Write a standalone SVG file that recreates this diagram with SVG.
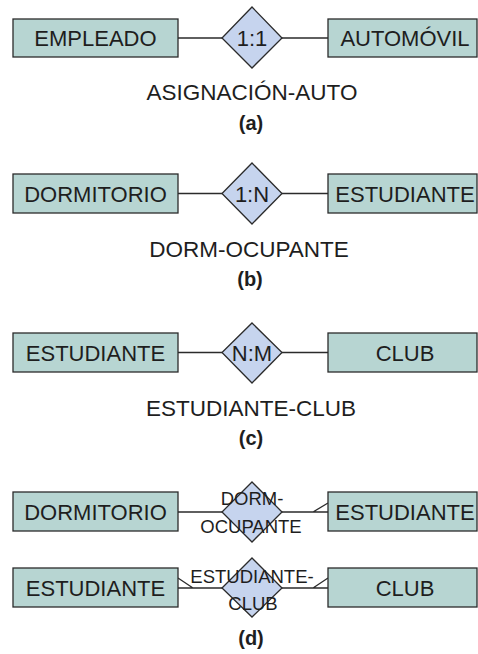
<svg xmlns="http://www.w3.org/2000/svg" width="478" height="654" viewBox="0 0 478 654">
<style>
.ent{fill:#b7d5d2;stroke:#2b2b2b;stroke-width:1.3}
.rel{fill:#c6d4ee;stroke:#2b2b2b;stroke-width:1.3}
.ln{stroke:#2b2b2b;stroke-width:1.3;fill:none}
text{font-family:"Liberation Sans",Arial,sans-serif;fill:#1e1e1e;text-anchor:middle}
.t{font-size:22px}
.l{font-size:22.5px}
.s{font-size:18.5px}
.cap{font-size:20px;font-weight:bold}
</style>
<rect width="478" height="654" fill="#fff"/>
<g id="connectors">
<path class="ln" d="M178 38H223M282 38H328"/>
<path class="ln" d="M178 193.5H222M282 193.5H328"/>
<path class="ln" d="M178 352.5H222M282 352.5H328"/>
<path class="ln" d="M178 512H222M282 512H328M313 512L328 503"/>
<path class="ln" d="M178 588H222M282 588H328M178 578L193 588M313 588L328 578"/>
</g>
<g id="a">
<g id="empleado"><rect class="ent" x="13" y="19" width="165" height="38"/><text class="t" x="95.5" y="46">EMPLEADO</text></g>
<g id="asignacion"><polygon class="rel" points="252,7 282,38 252,68 222,38"/><text class="t" x="252" y="46">1:1</text></g>
<g id="automovil"><rect class="ent" x="328" y="19" width="149" height="38"/><text class="t" x="405" y="46">AUTOMÓVIL</text></g>
<text class="l" x="252" y="100">ASIGNACIÓN-AUTO</text>
<text class="cap" x="251" y="130">(a)</text>
</g>
<g id="b">
<g id="dormitorio-b"><rect class="ent" x="13" y="174" width="165" height="39"/><text class="t" x="95.5" y="201.5">DORMITORIO</text></g>
<g id="dormocupante-b"><polygon class="rel" points="252,163 282,193.5 252,224 222,193.5"/><text class="t" x="252" y="201.5">1:N</text></g>
<g id="estudiante-b"><rect class="ent" x="328" y="174" width="149" height="39"/><text class="t" x="405" y="201.5">ESTUDIANTE</text></g>
<text class="l" x="249" y="257">DORM-OCUPANTE</text>
<text class="cap" x="250" y="286">(b)</text>
</g>
<g id="c">
<g id="estudiante-c"><rect class="ent" x="13" y="333" width="165" height="39"/><text class="t" x="95.5" y="360.5">ESTUDIANTE</text></g>
<g id="estclub-c"><polygon class="rel" points="252,323 282,352.5 252,383 222,352.5"/><text class="t" x="252" y="360.5">N:M</text></g>
<g id="club-c"><rect class="ent" x="328" y="333" width="149" height="39"/><text class="t" x="405" y="360.5">CLUB</text></g>
<text class="l" x="251" y="416">ESTUDIANTE-CLUB</text>
<text class="cap" x="251" y="445">(c)</text>
</g>
<g id="d">
<g id="dormitorio-d"><rect class="ent" x="13" y="492" width="165" height="39"/><text class="t" x="95.5" y="520">DORMITORIO</text></g>
<g id="dormocupante-d"><polygon class="rel" points="252,482 282,512 252,542 222,512"/><text class="s" x="252" y="505">DORM-</text><text class="s" x="251" y="533">OCUPANTE</text></g>
<g id="estudiante-d1"><rect class="ent" x="328" y="492" width="149" height="39"/><text class="t" x="405" y="520">ESTUDIANTE</text></g>
<g id="estudiante-d2"><rect class="ent" x="13" y="568" width="165" height="39"/><text class="t" x="95.5" y="596">ESTUDIANTE</text></g>
<g id="estclub-d"><polygon class="rel" points="252,558 282,588 252,617 222,588"/><text class="s" x="252" y="583">ESTUDIANTE-</text><text class="s" x="253" y="610">CLUB</text></g>
<g id="club-d"><rect class="ent" x="328" y="568" width="149" height="39"/><text class="t" x="405" y="596">CLUB</text></g>
<text class="cap" x="251" y="645">(d)</text>
</g>
</svg>
